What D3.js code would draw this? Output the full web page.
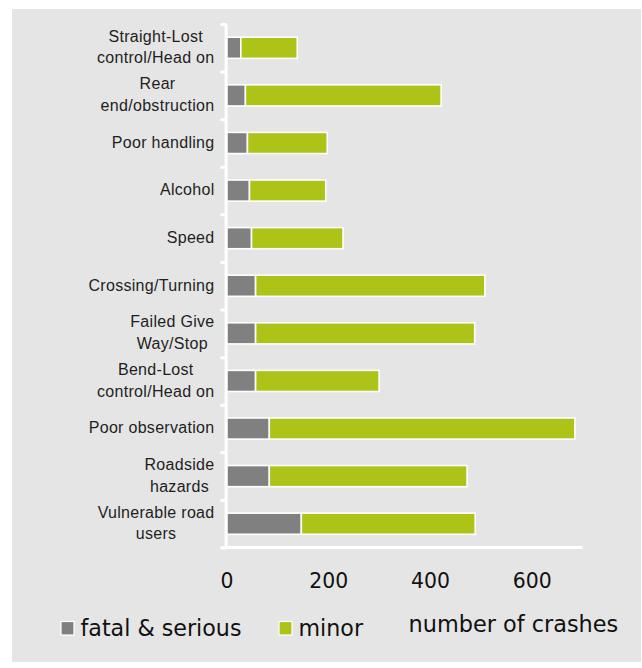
<!DOCTYPE html>
<html>
<head>
<meta charset="utf-8">
<script src="https://cdn.jsdelivr.net/npm/d3@7"></script>
<style>
    body { margin: 0; background: #ffffff; }
    svg { display: block; }
</style>
</head>
<body>
<script>

// categories (top to bottom), each label split into its wrapped lines
var categories = [
    ["Straight-Lost", "control/Head on"],
    ["Rear", "end/obstruction"],
    ["Poor handling"],
    ["Alcohol"],
    ["Speed"],
    ["Crossing/Turning"],
    ["Failed Give", "Way/Stop"],
    ["Bend-Lost", "control/Head on"],
    ["Poor observation"],
    ["Roadside", "hazards"],
    ["Vulnerable road", "users"]
];

// series values (number of crashes)
var fatalSerious = [28, 37, 41, 45, 49, 57, 57, 57, 84, 84, 147];
var minor = [111, 385, 157, 150, 180, 451, 431, 243, 601, 389, 342];

var xTicks = [0, 200, 400, 600];
var xMax = 700;

var seriesNames = ["fatal & serious", "minor"];
var seriesColors = ["#808080", "#adc317"];

// box model
var boxModel = {
    w: 642, h: 668,
    panel: {left: 12, top: 9, right: 641, bottom: 662},
    plot: {left: 226.6, top: 24, right: 582.5, bottom: 547.5}
};

var svg = d3.select("body").append("svg")
    .attr("width", boxModel.w)
    .attr("height", boxModel.h);

// gray panel
svg.append("rect")
    .attr("x", boxModel.panel.left)
    .attr("y", boxModel.panel.top)
    .attr("width", boxModel.panel.right - boxModel.panel.left)
    .attr("height", boxModel.panel.bottom - boxModel.panel.top)
    .attr("fill", "#e5e5e5");

// scales
var xScale = d3.scaleLinear().domain([0, xMax])
    .range([boxModel.plot.left, boxModel.plot.right]);

var idx = d3.range(categories.length);

var yScale = d3.scaleBand().domain(idx)
    .range([boxModel.plot.top, boxModel.plot.bottom])
    .paddingInner(0.5556)
    .paddingOuter(0.2778);

// boundaries between categories, for the tick marks
var yEdge = d3.scaleLinear().domain([0, categories.length])
    .range([boxModel.plot.top, boxModel.plot.bottom]);

// stack the two series
var rows = idx.map(function(i){
    return {i: i, fatal: fatalSerious[i], minor: minor[i]};
});

var stack = d3.stack().keys(["fatal", "minor"]);
var layers = stack(rows);

var bars = svg.append("g");

layers.forEach(function(layer, k){
    bars.selectAll(null)
        .data(layer)
        .enter()
        .append("rect")
        .attr("x", function(d){ return xScale(d[0]); })
        .attr("y", function(d){ return yScale(d.data.i); })
        .attr("width", function(d){ return xScale(d[1]) - xScale(d[0]); })
        .attr("height", yScale.bandwidth())
        .attr("fill", seriesColors[k])
        .attr("stroke", "#ffffff")
        .attr("stroke-width", 1.6);
});

// y axis (ticks between categories)
var yAxis = d3.axisLeft(yEdge)
    .tickValues(d3.range(categories.length + 1))
    .tickSize(4)
    .tickSizeOuter(0)
    .tickFormat("");

var gy = svg.append("g")
    .attr("transform", "translate(" + (xScale(0) - 1) + ",0)")
    .call(yAxis);

gy.select(".domain").attr("stroke", "#ffffff").attr("stroke-width", 3);
gy.selectAll(".tick line").attr("stroke", "#ffffff").attr("stroke-width", 3)
    .attr("stroke-linecap", "round");

// x axis
var xAxis = d3.axisBottom(xScale)
    .tickValues(xTicks)
    .tickSize(0)
    .tickPadding(26)
    .tickFormat(d3.format("d"));

var gx = svg.append("g")
    .attr("transform", "translate(0," + boxModel.plot.bottom + ")")
    .call(xAxis);

gx.select(".domain").remove();
gx.append("line")
    .attr("x1", xScale(0) - 5)
    .attr("x2", xScale(xMax))
    .attr("stroke", "#ffffff")
    .attr("stroke-width", 3);

gx.selectAll(".tick text")
    .attr("font-family", "DejaVu Sans, Verdana, sans-serif")
    .attr("font-size", "20.4px")
    .attr("fill", "#111111")
    .attr("dy", "0.71em");

// category labels, wrapped block right-aligned, lines centred in it
var labelRight = 214.5;
var lineH = 21.7;

categories.forEach(function(lines, i){
    var cy = yScale(i) + yScale.bandwidth() / 2;
    var g = svg.append("g");
    var texts = lines.map(function(s, j){
        return g.append("text")
            .attr("y", cy + 4.8 + (j - (lines.length - 1) / 2) * lineH)
            .attr("text-anchor", "middle")
            .attr("font-family", "Liberation Sans, Arial, sans-serif")
            .attr("font-size", "16px")
            .attr("letter-spacing", "0.3px")
            .attr("fill", "#1e1e1e")
            .text(s);
    });
    var maxW = d3.max(texts, function(t){ return t.node().getComputedTextLength(); });
    texts.forEach(function(t){
        t.attr("x", labelRight - maxW / 2);
    });
});

// legend
var legendX = [60, 278];
var legendY = 621.5;

seriesNames.forEach(function(name, k){
    svg.append("rect")
        .attr("x", legendX[k] + 1)
        .attr("y", legendY)
        .attr("width", 13)
        .attr("height", 13.5)
        .attr("fill", seriesColors[k])
        .attr("stroke", "#ffffff")
        .attr("stroke-width", 1.2);

    svg.append("text")
        .attr("x", legendX[k] + 20.5)
        .attr("y", 635.5)
        .attr("font-family", "DejaVu Sans, Verdana, sans-serif")
        .attr("font-size", "22.2px")
        .attr("fill", "#111111")
        .text(name);
});

// axis title
svg.append("text")
    .attr("x", 408.5)
    .attr("y", 632)
    .attr("font-family", "DejaVu Sans, Verdana, sans-serif")
    .attr("font-size", "22.4px")
    .attr("fill", "#111111")
    .text("number of crashes");

</script>
</body>
</html>
